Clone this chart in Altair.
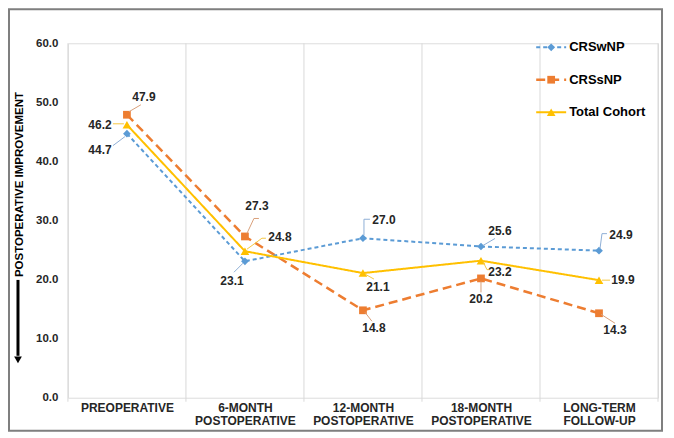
import json
import altair as alt
import pandas as pd

# ---------------- data ----------------
categories = [["PREOPERATIVE"], ["6-MONTH", "POSTOPERATIVE"], ["12-MONTH", "POSTOPERATIVE"],
              ["18-MONTH", "POSTOPERATIVE"], ["LONG-TERM", "FOLLOW-UP"]]
series_names = ["CRSwNP", "CRSsNP", "Total Cohort"]
crswnp = [44.7, 23.1, 27.0, 25.6, 24.9]
crssnp = [47.9, 27.3, 14.8, 20.2, 14.3]
total = [46.2, 24.8, 21.1, 23.2, 19.9]
y_ticks = [0, 10, 20, 30, 40, 50, 60]
y_title = "POSTOPERATIVE IMPROVEMENT"

values = {"CRSwNP": crswnp, "CRSsNP": crssnp, "Total Cohort": total}

# ---------------- styling ----------------
W, H = 591, 355
FONT = "Liberation Sans"
TXT = "#262626"
colors = {"CRSwNP": "#5B9BD5", "CRSsNP": "#ED7D31", "Total Cohort": "#FFC000"}
leader_colors = {"CRSwNP": "#8FAFD6", "CRSsNP": "#D9A07A", "Total Cohort": "#F5C842"}
dashes = {"CRSwNP": [4, 3], "CRSsNP": [9, 5], "Total Cohort": [1, 0]}
shapes = {"CRSwNP": "diamond", "CRSsNP": "square", "Total Cohort": "triangle-up"}
sizes = {"CRSwNP": 60, "CRSsNP": 60, "Total Cohort": 75}
widths = {"CRSwNP": 2, "CRSsNP": 2.5, "Total Cohort": 2}

# label placement (pixel offsets from each point)
label_dx = {"CRSwNP": [-27, -13, 21, 19, 22], "CRSsNP": [17, 12, 11, 0, 16], "Total Cohort": [-27, 35, 15, 19, 24]}
label_dy = {"CRSwNP": [16, 20, -18, -16, -16], "CRSsNP": [-18, -30, 18, 21, 17], "Total Cohort": [0, -14, 14, 11, 0]}
leaders = {
    "CRSwNP": [[(-2, 3), (-14, 12)], [(-2, 2), (-11, 11)], [(1, -3), (1, -19), (7, -19)],
               [(2, -1), (14, -8)], [(1, -2), (3, -17), (8, -17)]],
    "CRSsNP": [[(2, -3), (14, -10)], [(2, -3), (9, -18), (14, -18)], [(2, 2), (9, 11)],
               [(0, 3), (0, 14)], [(2, 1), (16, 10)]],
    "Total Cohort": [[(-14, -1), (-3, -1)], [(2, -2), (17, -13), (21, -13)], [(2, 1), (11, 6)],
                     [(2, 1), (6, 9), (9, 9)], [(3, 0), (11, 0)]],
}

px_x = W / 5.0
px_y = H / 60.0

xscale = alt.Scale(domain=[-0.5, 4.5], nice=False, zero=False)
yscale = alt.Scale(domain=[0, 60], nice=False)

label_expr = json.dumps(categories) + "[datum.value]"

layers = []

# vertical gridlines at category boundaries
grid_df = pd.DataFrame({"b": [i - 0.5 for i in range(len(categories) + 1)]})
layers.append(
    alt.Chart(grid_df).mark_rule(color="#D9D9D9", strokeWidth=1).encode(
        x=alt.X("b:Q", scale=xscale,
                axis=alt.Axis(values=list(range(len(categories))), labelExpr=label_expr,
                              title=None, grid=False, domain=False, ticks=False,
                              labelPadding=5, labelFontSize=12, labelFontWeight="bold",
                              labelColor=TXT, labelFont=FONT, labelLineHeight=13,
                              labelAngle=0)),
        y=alt.value(0), y2=alt.value(H + 4),
    )
)

# y axis (labels + title) carried by an invisible layer
layers.append(
    alt.Chart(pd.DataFrame({"v": y_ticks})).mark_point(opacity=0).encode(
        x=alt.value(0),
        y=alt.Y("v:Q", scale=yscale,
                axis=alt.Axis(values=y_ticks, format=".1f", grid=False, domain=False, ticks=False,
                              labelPadding=10, labelFontSize=11.5, labelFontWeight="bold",
                              labelColor=TXT, labelFont=FONT,
                              title=y_title, titleX=-48, titleY=141, titleAngle=270,
                              titleAlign="center", titleBaseline="middle", titleFontSize=11.5,
                              titleFontWeight="bold", titleColor="#000000", titleFont=FONT)),
    )
)

order = ["CRSsNP", "CRSwNP", "Total Cohort"]
for s in order:
    vals = values[s]
    df = pd.DataFrame({"i": list(range(len(vals))), "v": vals, "series": s})
    base = alt.Chart(df).encode(x=alt.X("i:Q", scale=xscale), y=alt.Y("v:Q", scale=yscale))
    layers.append(base.mark_line(color=colors[s], strokeWidth=widths[s], strokeDash=dashes[s]))
    layers.append(base.mark_point(shape=shapes[s], filled=True, color=colors[s], size=sizes[s], opacity=1))

    # leader lines
    rows = []
    for i, (v, poly) in enumerate(zip(vals, leaders[s])):
        for k, (dx, dy) in enumerate(poly):
            rows.append({"lid": f"{s}-{i}", "k": k, "lx": i + dx / px_x, "ly": v - dy / px_y})
    ldf = pd.DataFrame(rows)
    layers.append(
        alt.Chart(ldf).mark_line(color=leader_colors[s], strokeWidth=1).encode(
            x=alt.X("lx:Q", scale=xscale), y=alt.Y("ly:Q", scale=yscale),
            detail="lid:N", order="k:Q")
    )

    # value labels
    tdf = pd.DataFrame({
        "lx": [i + dx / px_x for i, dx in enumerate(label_dx[s])],
        "ly": [v - dy / px_y for v, dy in zip(vals, label_dy[s])],
        "t": [f"{v:.1f}" for v in vals],
    })
    layers.append(
        alt.Chart(tdf).mark_text(font=FONT, fontSize=12, fontWeight="bold", color=TXT,
                                 align="center", baseline="middle").encode(
            x=alt.X("lx:Q", scale=xscale), y=alt.Y("ly:Q", scale=yscale), text="t:N")
    )

# legend (manual, top right)
for r, s in enumerate(series_names):
    ly = 4 + r * 32.5
    one = pd.DataFrame({"name": [s]})
    layers.append(alt.Chart(one).mark_rule(color=colors[s], strokeWidth=widths[s], strokeDash=dashes[s]).encode(
        x=alt.value(469), x2=alt.value(499), y=alt.value(ly)))
    layers.append(alt.Chart(one).mark_point(shape=shapes[s], filled=True, color=colors[s],
                                            size=sizes[s], opacity=1).encode(
        x=alt.value(484), y=alt.value(ly)))
    layers.append(alt.Chart(one).mark_text(font=FONT, fontSize=13, fontWeight="bold", color="#000000",
                                           align="left", baseline="middle").encode(
        x=alt.value(502), y=alt.value(ly), text="name:N"))

# arrow beside the y title
deco = pd.DataFrame({"a": [0]})
layers.append(alt.Chart(deco).mark_rule(color="#000000", strokeWidth=3).encode(
    x=alt.value(-50), y=alt.value(237), y2=alt.value(313)))
layers.append(alt.Chart(deco).mark_point(shape="triangle-down", filled=True, color="#000000",
                                         size=60, opacity=1).encode(
    x=alt.value(-50), y=alt.value(317)))

# outer frame
layers.append(alt.Chart(deco).mark_rect(fillOpacity=0, stroke="#7F7F7F", strokeWidth=2).encode(
    x=alt.value(-59), x2=alt.value(595), y=alt.value(-34), y2=alt.value(388)))

chart = alt.layer(*layers).properties(
    width=W, height=H,
    autosize=alt.AutoSizeParams(type="none"),
    padding={"left": 60, "top": 35, "right": 8, "bottom": 36},
).configure_view(stroke=None).configure(background="white")

chart.save("out.html", embed_options={"renderer": "svg", "actions": False})
